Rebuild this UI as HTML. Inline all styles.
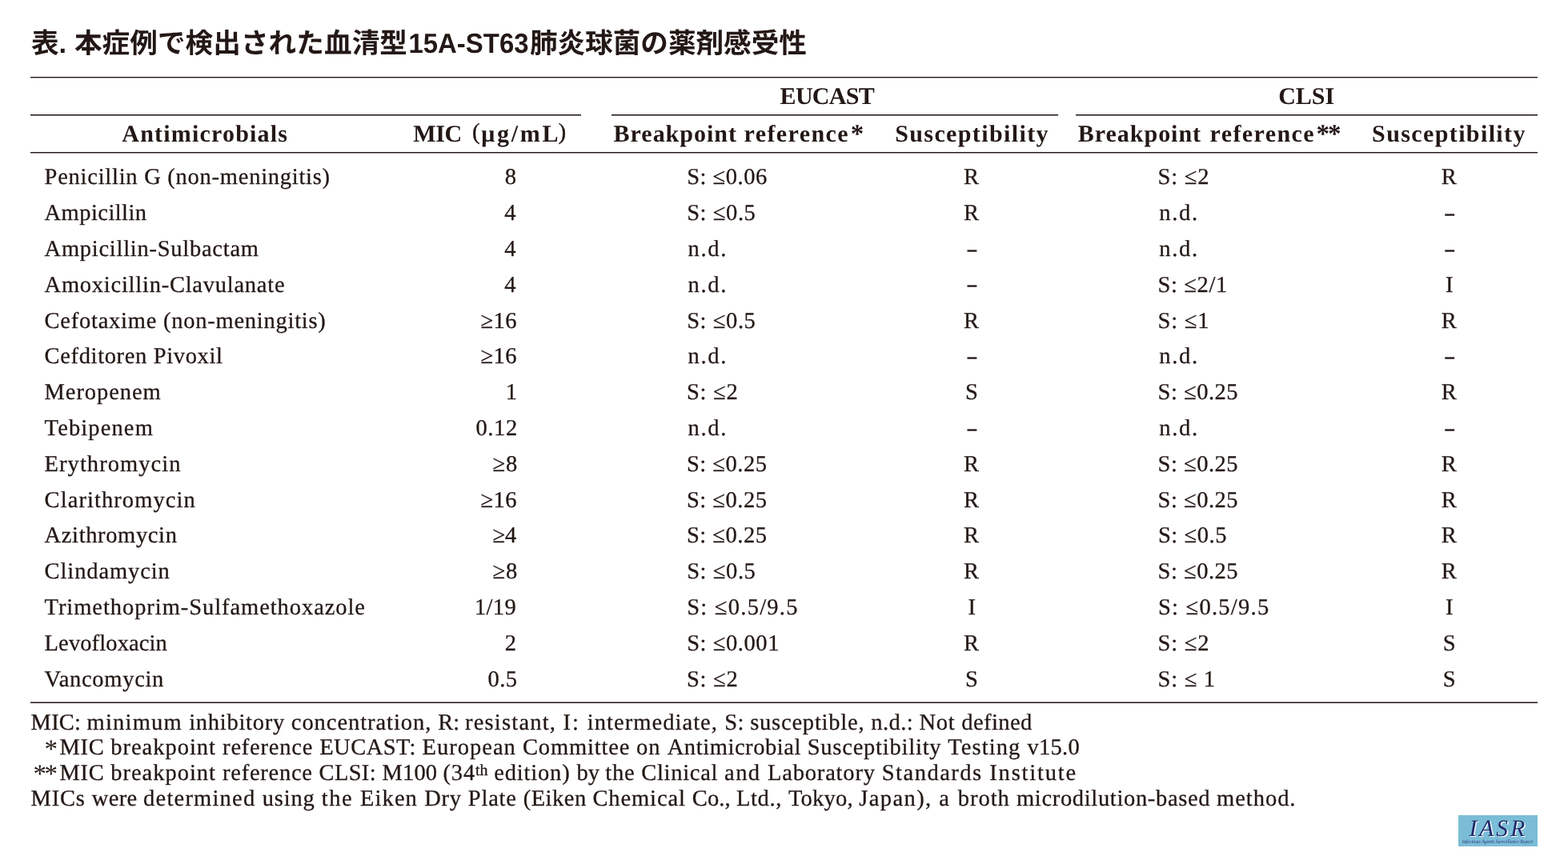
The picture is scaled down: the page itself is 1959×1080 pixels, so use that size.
<!DOCTYPE html>
<html lang="ja"><head><meta charset="utf-8"><title>表. 本症例で検出された血清型15A-ST63肺炎球菌の薬剤感受性</title>
<style>
html,body{margin:0;padding:0;background:#fff}
body{width:1959px;height:1080px;position:relative;overflow:hidden;color:#231815;font-family:"Liberation Serif",serif;text-rendering:geometricPrecision}
.page{position:absolute;left:0;top:0;width:1959px;height:1080px;will-change:transform}
.x{position:absolute;white-space:pre;line-height:40px;margin:0;padding:0;font-weight:400;text-align:left}
.b{font-size:28.5px;line-height:41px;-webkit-text-stroke:.3px #231815}
.h{font-size:30px;font-weight:700;line-height:41px}
.d{font-weight:700;font-size:24px;font-family:"Liberation Sans",sans-serif}
.hp{font-size:29px;-webkit-text-stroke:.4px #231815}
.ha{font-size:33px;font-weight:700}
.fa{font-size:33px}
.r{position:absolute;height:1px}
table,thead,tbody,tr{display:block;margin:0;padding:0;border:0}
p{margin:0}
th{font-weight:400}
sup{font-size:.7em;line-height:0;vertical-align:baseline;position:relative;top:-.28em;letter-spacing:0}
h1{margin:0;padding:0;font-size:0}
.logo{position:absolute;left:1822px;top:1019px;width:99px;height:39px}
.ttl text{font-family:"Liberation Sans","Noto Sans CJK JP",sans-serif;font-weight:700;font-size:34.6px;fill:#231815}
</style></head><body><div class="page">
<h1><svg class="ttl" width="1959" height="90" viewBox="0 0 1959 90" style="position:absolute;left:0;top:0" fill="#231815"><text x="38.9" y="66.3">表.</text><text x="92.9" y="66.3" textLength="416" lengthAdjust="spacing">本症例で検出された血清型</text><text x="510.5" y="65.8" textLength="150" lengthAdjust="spacingAndGlyphs">15A-ST63</text><text x="661.9" y="66.3" textLength="346" lengthAdjust="spacing">肺炎球菌の薬剤感受性</text></svg></h1>
<div class="r" style="left:38px;top:96px;width:1883px;background:#231815;box-shadow:0 1px 0 rgba(35,24,21,0.4)"></div>
<div class="r" style="left:38px;top:143px;width:687.7px;background:#231815;box-shadow:0 1px 0 rgba(35,24,21,0.55)"></div>
<div class="r" style="left:764.2px;top:143px;width:557.6px;background:#231815;box-shadow:0 1px 0 rgba(35,24,21,0.55)"></div>
<div class="r" style="left:1343.5px;top:143px;width:577.5px;background:#231815;box-shadow:0 1px 0 rgba(35,24,21,0.55)"></div>
<div class="r" style="left:38px;top:190px;width:1883px;background:#231815;box-shadow:0 1px 0 rgba(35,24,21,0.45)"></div>
<div class="r" style="left:38px;top:877px;width:1883px;background:rgba(35,24,21,0.55);box-shadow:0 1px 0 #231815"></div>
<table>
<thead><tr><th class="x h" style="left:974.60px;top:99.80px;letter-spacing:-0.720px">EUCAST</th><th class="x h" style="left:1597.20px;top:99.80px">CLSI</th></tr>
<tr><th class="x h" style="left:152.30px;top:146.80px;letter-spacing:1.200px">Antimicrobials</th><th><span class="x h" style="left:516.30px;top:146.80px;letter-spacing:-0.400px">MIC</span><span class="x hp" style="left:590.10px;top:145.40px">(</span><span class="x h" style="left:601.20px;top:146.80px;letter-spacing:2.750px">μg/mL</span><span class="x hp" style="left:697.40px;top:145.40px">)</span></th><th><span class="x h" style="left:766.60px;top:146.80px;letter-spacing:0.978px">Breakpoint </span><span class="x h" style="left:929.50px;top:146.80px;letter-spacing:1.400px">reference</span><sup class="x ha" style="left:1062.70px;top:148.20px">*</sup></th><th class="x h" style="left:1118.20px;top:146.80px;letter-spacing:1.385px">Susceptibility</th><th><span class="x h" style="left:1346.80px;top:146.80px;letter-spacing:0.978px">Breakpoint </span><span class="x h" style="left:1511.50px;top:146.80px;letter-spacing:1.400px">reference</span><sup class="x ha" style="left:1644.60px;top:148.20px;letter-spacing:-2.200px">**</sup></th><th class="x h" style="left:1714.10px;top:146.80px;letter-spacing:1.385px">Susceptibility</th></tr></thead>
<tbody>
<tr>
<td class="x b" style="left:55.60px;top:201.30px;letter-spacing:0.746px">Penicillin G (non-meningitis)</td>
<td class="x b" style="left:630.80px;top:201.30px">8</td>
<td class="x b" style="left:858.20px;top:201.30px;letter-spacing:0.514px">S: ≤0.06</td>
<td class="x b" style="left:1204.10px;top:201.30px">R</td>
<td class="x b" style="left:1446.60px;top:201.30px;letter-spacing:0.775px">S: ≤2</td>
<td class="x b" style="left:1800.80px;top:201.30px">R</td>
</tr>
<tr>
<td class="x b" style="left:55.60px;top:246.11px;letter-spacing:0.444px">Ampicillin</td>
<td class="x b" style="left:630.30px;top:246.11px">4</td>
<td class="x b" style="left:858.20px;top:246.11px;letter-spacing:0.583px">S: ≤0.5</td>
<td class="x b" style="left:1204.10px;top:246.11px">R</td>
<td class="x b" style="left:1448.20px;top:246.11px;letter-spacing:1.700px">n.d.</td>
<td class="x d" style="left:1804.45px;top:247.87px">–</td>
</tr>
<tr>
<td class="x b" style="left:55.60px;top:290.92px;letter-spacing:0.742px">Ampicillin-Sulbactam</td>
<td class="x b" style="left:630.30px;top:290.92px">4</td>
<td class="x b" style="left:859.50px;top:290.92px;letter-spacing:1.700px">n.d.</td>
<td class="x d" style="left:1207.75px;top:292.68px">–</td>
<td class="x b" style="left:1448.20px;top:290.92px;letter-spacing:1.700px">n.d.</td>
<td class="x d" style="left:1804.45px;top:292.68px">–</td>
</tr>
<tr>
<td class="x b" style="left:55.60px;top:335.73px;letter-spacing:0.755px">Amoxicillin-Clavulanate</td>
<td class="x b" style="left:630.30px;top:335.73px">4</td>
<td class="x b" style="left:859.50px;top:335.73px;letter-spacing:1.700px">n.d.</td>
<td class="x d" style="left:1207.75px;top:337.49px">–</td>
<td class="x b" style="left:1446.60px;top:335.73px;letter-spacing:0.600px">S: ≤2/1</td>
<td class="x b" style="left:1806.10px;top:335.73px">I</td>
</tr>
<tr>
<td class="x b" style="left:55.60px;top:380.54px;letter-spacing:0.754px">Cefotaxime (non-meningitis)</td>
<td class="x b" style="left:600.40px;top:380.54px;letter-spacing:0.500px">≥16</td>
<td class="x b" style="left:858.20px;top:380.54px;letter-spacing:0.583px">S: ≤0.5</td>
<td class="x b" style="left:1204.10px;top:380.54px">R</td>
<td class="x b" style="left:1446.60px;top:380.54px;letter-spacing:0.775px">S: ≤1</td>
<td class="x b" style="left:1800.80px;top:380.54px">R</td>
</tr>
<tr>
<td class="x b" style="left:55.60px;top:425.35px;letter-spacing:0.647px">Cefditoren Pivoxil</td>
<td class="x b" style="left:600.40px;top:425.35px;letter-spacing:0.500px">≥16</td>
<td class="x b" style="left:859.50px;top:425.35px;letter-spacing:1.700px">n.d.</td>
<td class="x d" style="left:1207.75px;top:427.11px">–</td>
<td class="x b" style="left:1448.20px;top:425.35px;letter-spacing:1.700px">n.d.</td>
<td class="x d" style="left:1804.45px;top:427.11px">–</td>
</tr>
<tr>
<td class="x b" style="left:55.60px;top:470.16px;letter-spacing:0.925px">Meropenem</td>
<td class="x b" style="left:631.80px;top:470.16px">1</td>
<td class="x b" style="left:857.90px;top:470.16px;letter-spacing:0.775px">S: ≤2</td>
<td class="x b" style="left:1205.95px;top:470.16px">S</td>
<td class="x b" style="left:1446.60px;top:470.16px;letter-spacing:0.514px">S: ≤0.25</td>
<td class="x b" style="left:1800.80px;top:470.16px">R</td>
</tr>
<tr>
<td class="x b" style="left:55.60px;top:514.97px;letter-spacing:1.125px">Tebipenem</td>
<td class="x b" style="left:594.40px;top:514.97px;letter-spacing:0.667px">0.12</td>
<td class="x b" style="left:859.50px;top:514.97px;letter-spacing:1.700px">n.d.</td>
<td class="x d" style="left:1207.75px;top:516.73px">–</td>
<td class="x b" style="left:1448.20px;top:514.97px;letter-spacing:1.700px">n.d.</td>
<td class="x d" style="left:1804.45px;top:516.73px">–</td>
</tr>
<tr>
<td class="x b" style="left:55.60px;top:559.78px;letter-spacing:1.045px">Erythromycin</td>
<td class="x b" style="left:615.40px;top:559.78px;letter-spacing:1.000px">≥8</td>
<td class="x b" style="left:857.90px;top:559.78px;letter-spacing:0.514px">S: ≤0.25</td>
<td class="x b" style="left:1204.10px;top:559.78px">R</td>
<td class="x b" style="left:1446.60px;top:559.78px;letter-spacing:0.514px">S: ≤0.25</td>
<td class="x b" style="left:1800.80px;top:559.78px">R</td>
</tr>
<tr>
<td class="x b" style="left:55.60px;top:604.59px;letter-spacing:1.077px">Clarithromycin</td>
<td class="x b" style="left:600.40px;top:604.59px;letter-spacing:0.500px">≥16</td>
<td class="x b" style="left:857.90px;top:604.59px;letter-spacing:0.514px">S: ≤0.25</td>
<td class="x b" style="left:1204.10px;top:604.59px">R</td>
<td class="x b" style="left:1446.60px;top:604.59px;letter-spacing:0.514px">S: ≤0.25</td>
<td class="x b" style="left:1800.80px;top:604.59px">R</td>
</tr>
<tr>
<td class="x b" style="left:55.60px;top:649.40px;letter-spacing:0.636px">Azithromycin</td>
<td class="x b" style="left:615.40px;top:649.40px">≥4</td>
<td class="x b" style="left:857.90px;top:649.40px;letter-spacing:0.514px">S: ≤0.25</td>
<td class="x b" style="left:1204.10px;top:649.40px">R</td>
<td class="x b" style="left:1446.90px;top:649.40px;letter-spacing:0.583px">S: ≤0.5</td>
<td class="x b" style="left:1800.80px;top:649.40px">R</td>
</tr>
<tr>
<td class="x b" style="left:55.60px;top:694.21px;letter-spacing:0.900px">Clindamycin</td>
<td class="x b" style="left:615.40px;top:694.21px;letter-spacing:1.000px">≥8</td>
<td class="x b" style="left:858.20px;top:694.21px;letter-spacing:0.583px">S: ≤0.5</td>
<td class="x b" style="left:1204.10px;top:694.21px">R</td>
<td class="x b" style="left:1446.60px;top:694.21px;letter-spacing:0.514px">S: ≤0.25</td>
<td class="x b" style="left:1800.80px;top:694.21px">R</td>
</tr>
<tr>
<td class="x b" style="left:55.60px;top:739.02px;letter-spacing:0.939px">Trimethoprim-Sulfamethoxazole</td>
<td class="x b" style="left:593.00px;top:739.02px;letter-spacing:0.334px">1/19</td>
<td class="x b" style="left:858.20px;top:739.02px;letter-spacing:1.260px">S: ≤0.5/9.5</td>
<td class="x b" style="left:1209.40px;top:739.02px">I</td>
<td class="x b" style="left:1446.90px;top:739.02px;letter-spacing:1.260px">S: ≤0.5/9.5</td>
<td class="x b" style="left:1806.10px;top:739.02px">I</td>
</tr>
<tr>
<td class="x b" style="left:55.60px;top:783.83px;letter-spacing:0.118px">Levofloxacin</td>
<td class="x b" style="left:630.80px;top:783.83px">2</td>
<td class="x b" style="left:858.20px;top:783.83px;letter-spacing:0.575px">S: ≤0.001</td>
<td class="x b" style="left:1204.10px;top:783.83px">R</td>
<td class="x b" style="left:1446.60px;top:783.83px;letter-spacing:0.775px">S: ≤2</td>
<td class="x b" style="left:1802.65px;top:783.83px">S</td>
</tr>
<tr>
<td class="x b" style="left:55.60px;top:828.64px;letter-spacing:0.700px">Vancomycin</td>
<td class="x b" style="left:609.40px;top:828.64px;letter-spacing:0.500px">0.5</td>
<td class="x b" style="left:857.90px;top:828.64px;letter-spacing:0.775px">S: ≤2</td>
<td class="x b" style="left:1205.95px;top:828.64px">S</td>
<td class="x b" style="left:1446.60px;top:828.64px;letter-spacing:0.720px">S: ≤ 1</td>
<td class="x b" style="left:1802.65px;top:828.64px">S</td>
</tr>
</tbody></table>
<div class="notes">
<p><span class="x b" style="left:38.60px;top:882.85px"><span style="letter-spacing:0.22px">MIC: </span><span style="letter-spacing:1.20px">minimum </span><span style="letter-spacing:0.74px">inhibitory </span><span style="letter-spacing:0.94px">concentration, </span><span style="letter-spacing:-0.12px">R: </span><span style="letter-spacing:1.21px">resistant, </span><span style="letter-spacing:1.89px">I: </span><span style="letter-spacing:1.05px">intermediate, </span><span style="letter-spacing:0.37px">S: </span><span style="letter-spacing:0.79px">susceptible, </span><span style="letter-spacing:0.40px">n.d.: </span><span style="letter-spacing:0.71px">Not </span><span style="letter-spacing:0.43px">defined</span></span></p>
<p><span class="x fa" style="left:55.50px;top:916.50px">*</span><span class="x b" style="left:74.50px;top:914.10px"><span style="letter-spacing:0.68px">MIC </span><span style="letter-spacing:0.99px">breakpoint </span><span style="letter-spacing:0.80px">reference </span><span style="letter-spacing:0.49px">EUCAST: </span><span style="letter-spacing:1.01px">European </span><span style="letter-spacing:0.83px">Committee </span><span style="letter-spacing:0.99px">on </span><span style="letter-spacing:0.57px">Antimicrobial </span><span style="letter-spacing:0.78px">Susceptibility </span><span style="letter-spacing:1.07px">Testing </span><span style="letter-spacing:0.26px">v15.0</span></span></p>
<p><span class="x fa" style="left:41.40px;top:948.00px;letter-spacing:-2.500px">**</span><span class="x b" style="left:74.50px;top:945.60px"><span style="letter-spacing:0.68px">MIC </span><span style="letter-spacing:0.99px">breakpoint </span><span style="letter-spacing:0.74px">reference </span><span style="letter-spacing:0.33px">CLSI: </span><span style="letter-spacing:0.20px">M100 </span><span style="letter-spacing:0.77px">(34<sup>th</sup> </span><span style="letter-spacing:0.81px">edition) </span><span style="letter-spacing:0.09px">by </span><span style="letter-spacing:0.74px">the </span><span style="letter-spacing:0.72px">Clinical </span><span style="letter-spacing:1.43px">and </span><span style="letter-spacing:0.81px">Laboratory </span><span style="letter-spacing:1.50px">Standards </span><span style="letter-spacing:1.82px">Institute</span></span></p>
<p><span class="x b" style="left:38.60px;top:977.80px"><span style="letter-spacing:0.81px">MICs </span><span style="letter-spacing:0.38px">were </span><span style="letter-spacing:1.21px">determined </span><span style="letter-spacing:0.84px">using </span><span style="letter-spacing:1.61px">the </span><span style="letter-spacing:1.08px">Eiken </span><span style="letter-spacing:0.81px">Dry </span><span style="letter-spacing:0.78px">Plate </span><span style="letter-spacing:0.53px">(Eiken </span><span style="letter-spacing:0.89px">Chemical </span><span style="letter-spacing:0.09px">Co., </span><span style="letter-spacing:0.68px">Ltd., </span><span style="letter-spacing:0.22px">Tokyo, </span><span style="letter-spacing:1.42px">Japan), </span><span style="letter-spacing:1.86px">a </span><span style="letter-spacing:1.00px">broth </span><span style="letter-spacing:0.67px">microdilution-based </span><span style="letter-spacing:0.97px">method.</span></span></p>
</div>
<div class="logo" role="img" aria-label="IASR Infectious Agents Surveillance Report"><svg width="99" height="39" viewBox="0 0 99 39" style="display:block"><rect width="99" height="39" fill="#7bbdd6"/><g font-family="Liberation Serif,serif" font-style="italic" font-size="29.4" letter-spacing="3.1" text-anchor="start"><text x="14.8" y="26.9" fill="#fff">IASR</text><text x="13.4" y="26.2" fill="#1f2a6c">IASR</text></g><text transform="translate(4.7 35.3) scale(.5)" font-family="Liberation Serif,serif" font-style="italic" font-size="13.4" textLength="177" lengthAdjust="spacingAndGlyphs" fill="#2b3a80">Infectious Agents Surveillance Report</text></svg></div>
</div></body></html>
